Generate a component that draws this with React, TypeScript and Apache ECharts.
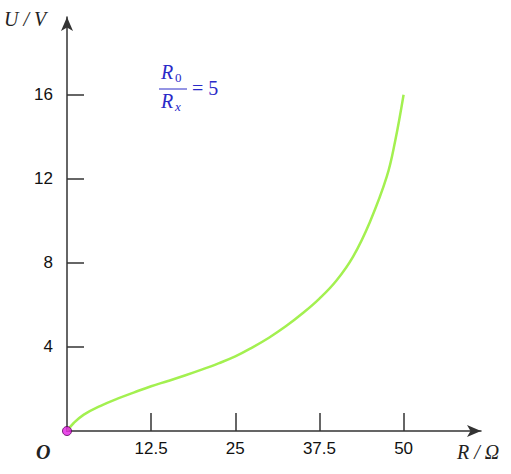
import React, { useEffect, useRef } from "react";
import * as echarts from "echarts";

const rValues = [0, 1, 2.5, 5, 7.5, 10, 12.5, 15, 17.5, 20, 22.5, 25, 27.5, 30, 32.5, 35, 37.5, 40, 42.5, 45, 47.5, 48.75, 50];
const uValues = [0, 0.38, 0.78, 1.2, 1.54, 1.84, 2.13, 2.38, 2.64, 2.92, 3.22, 3.55, 3.97, 4.44, 4.98, 5.6, 6.3, 7.15, 8.3, 9.95, 12.1, 13.8, 16];
const xTicks = [12.5, 25, 37.5, 50];
const yTicks = [4, 8, 12, 16];
const originPoint = [[0, 0]];

export default function App() {
  const ref = useRef<HTMLDivElement>(null);
  useEffect(() => {
    if (!ref.current) return;
    const chart = echarts.init(ref.current, null, { renderer: "svg" });
    const axisColor = "#333";
    const serif = "Liberation Serif";
    const blue = "#2a2ac8";
    const txt = (left: number, top: number, text: string, size: number, opts: any = {}) => ({
      type: "text",
      left,
      top,
      style: {
        text,
        fontFamily: serif,
        fontSize: size,
        fontStyle: opts.italic === false ? "normal" : "italic",
        fontWeight: opts.bold ? "bold" : "normal",
        fill: opts.color || "#222",
      },
    });
    chart.setOption({
      animation: false,
      backgroundColor: "#fff",
      grid: { left: 67, right: 30, top: 17, bottom: 43 },
      xAxis: {
        type: "value",
        min: 0,
        max: 61.5,
        axisLine: {
          show: true,
          lineStyle: { color: axisColor, width: 1.5 },
          symbol: ["none", "arrow"],
          symbolSize: [9, 14],
        },
        axisTick: { show: true, inside: true, length: 18, customValues: xTicks, lineStyle: { color: axisColor, width: 1.5 } },
        axisLabel: {
          show: true,
          customValues: xTicks,
          margin: 9,
          color: "#111",
          fontSize: 17,
          fontFamily: "Liberation Sans",
          formatter: (v: number) => String(v),
        },
        splitLine: { show: false },
      },
      yAxis: {
        type: "value",
        min: 0,
        max: 19.7,
        axisLine: {
          show: true,
          lineStyle: { color: axisColor, width: 1.5 },
          symbol: ["none", "arrow"],
          symbolSize: [9, 14],
        },
        axisTick: { show: true, inside: true, length: 17, customValues: yTicks, lineStyle: { color: axisColor, width: 1.5 } },
        axisLabel: {
          show: true,
          customValues: yTicks,
          margin: 14,
          color: "#111",
          fontSize: 17,
          fontFamily: "Liberation Sans",
        },
        splitLine: { show: false },
      },
      series: [
        {
          type: "line",
          data: rValues.map((r, i) => [r, uValues[i]]),
          smooth: 0.4,
          showSymbol: false,
          lineStyle: { color: "#a3f050", width: 2.5 },
          z: 3,
        },
        {
          type: "scatter",
          data: originPoint,
          symbolSize: 9,
          itemStyle: { color: "#e41ee4", borderColor: "#5a005a", borderWidth: 1 },
          z: 5,
        },
      ],
      graphic: [
        txt(4, 9, "U / V", 20),
        txt(36, 442, "O", 20, { bold: true }),
        txt(457, 442, "R / Ω", 20),
        txt(161, 62, "R", 20, { color: blue }),
        txt(175, 71, "0", 13, { color: blue, italic: false }),
        { type: "line", shape: { x1: 159, y1: 89, x2: 187, y2: 89 }, style: { stroke: blue, lineWidth: 1 } },
        txt(161, 91, "R", 20, { color: blue }),
        txt(175, 100, "x", 13, { color: blue }),
        txt(192, 78, "= 5", 20, { color: blue, italic: false }),
      ],
    });
    return () => chart.dispose();
  }, []);
  return <div ref={ref} style={{ position: "fixed", left: 0, top: 0, width: 511, height: 474 }} />;
}
